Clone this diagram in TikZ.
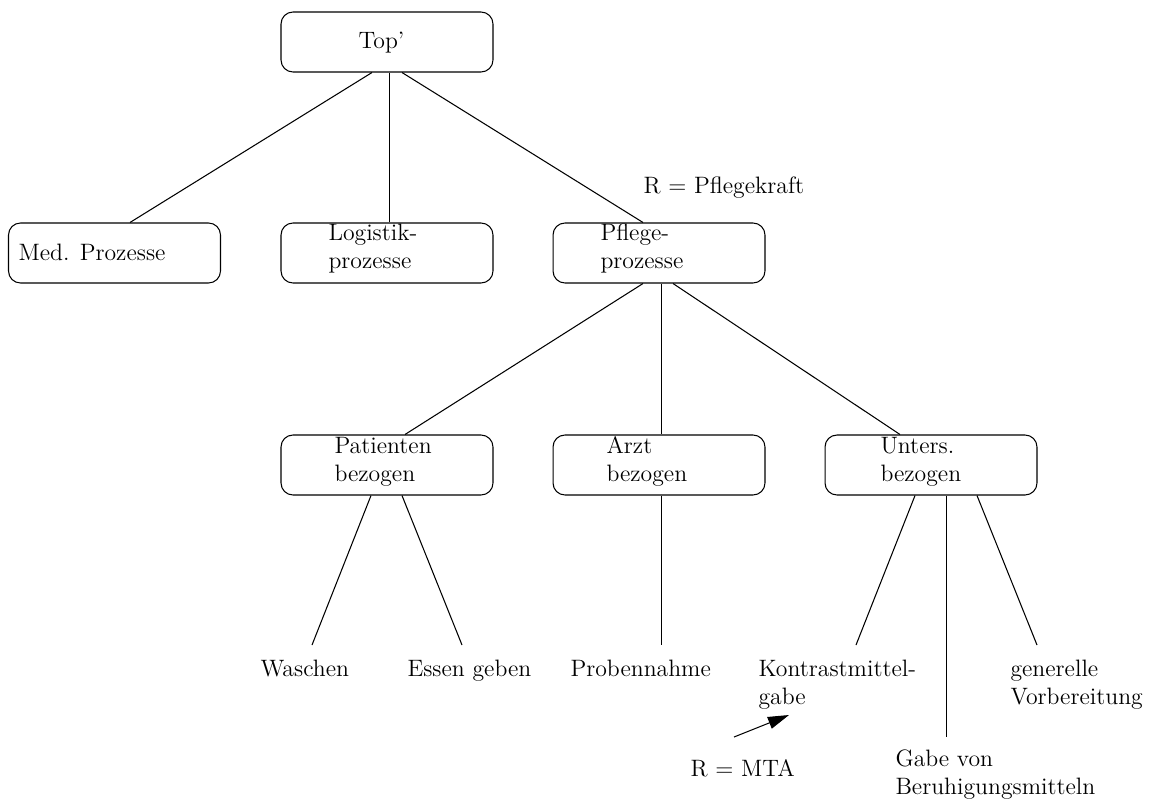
\documentclass[tikz,border=0pt]{standalone}
\usetikzlibrary{calc,arrows.meta}
\begin{document}
\begin{tikzpicture}[x=0.02cm,y=-0.02cm,
  font=\fontsize{13.5}{15.9}\selectfont,
  line width=0.6pt,
  box/.style={draw, rounded corners=6.8pt, minimum width=4.24cm, minimum height=1.2cm, inner sep=0pt},
  txt/.style={inner sep=0pt, anchor=base west, align=left},
  edge/.style={draw, line width=0.6pt}]
\useasboundingbox (0,0) rectangle (1165,801);
% boxes
\node[box] (top)  at (387,42)  {};
\node[box] (med)  at (114.5,253) {};
\node[box] (logi) at (387,253) {};
\node[box] (pfl)  at (659,253) {};
\node[box] (pat)  at (387,465) {};
\node[box] (arzt) at (659,465) {};
\node[box] (unt)  at (931,465) {};
% box texts (base = baseline of last line)
\node[txt] (toptxt)  at (358,48)  {Top'};
\node[txt] (medtxt)  at (18,260)  {Med. Prozesse};
\node[txt] (logitxt) at (328,268) {Logistik-\\prozesse};
\node[txt] (pfltxt)  at (600,268) {Pflege-\\prozesse};
\node[txt] (pattxt)  at (334,481) {Patienten\\bezogen};
\node[txt] (arzttxt) at (606,481) {Arzt\\bezogen};
\node[txt] (unttxt)  at (880,481) {Unters.\\bezogen};
% leaves
\node[txt] (wasch)  at (260,676) {Waschen};
\node[txt] (essen)  at (407,676) {Essen geben};
\node[txt] (probe)  at (570,676) {Probennahme};
\node[txt] (kontr)  at (758,704) {Kontrastmittel-\\gabe};
\node[txt] (gen)    at (1010,704) {generelle\\Vorbereitung};
\node[txt] (gabe)   at (895,794) {Gabe von\\Beruhigungsmitteln};
\node[txt] (rpfl)   at (643,193) {R = Pflegekraft};
\node[txt] (rmta)   at (690,776) {R = MTA};
% edge end points
\coordinate (wasch-n) at (312,645);
\coordinate (essen-n) at (462,645);
\coordinate (probe-n) at (661.5,645);
\coordinate (kontr-n) at (856,645);
\coordinate (gen-n)   at (1037,645);
\coordinate (gabe-n)  at (946.5,737);
\coordinate (mta-s)   at (734,737);
\coordinate (mta-e)   at (789,715);
% edges
\draw[edge] ($(top.south)+(-15,0)$) -- ($(med.north)+(15.5,0)$);
\draw[edge] ($(top.south)+(2.5,0)$) -- ($(logi.north)+(2.5,0)$);
\draw[edge] ($(top.south)+(15,0)$) -- ($(pfl.north)+(-16,0)$);
\draw[edge] ($(pfl.south)+(-16,0)$) -- ($(pat.north)+(18,0)$);
\draw[edge] ($(pfl.south)+(2.5,0)$) -- ($(arzt.north)+(2.5,0)$);
\draw[edge] ($(pfl.south)+(14,0)$) -- ($(unt.north)+(-31,0)$);
\draw[edge] ($(pat.south)+(-16,0)$) -- (wasch-n);
\draw[edge] ($(pat.south)+(15,0)$) -- (essen-n);
\draw[edge] ($(arzt.south)+(2.5,0)$) -- (probe-n);
\draw[edge] ($(unt.south)+(-16,0)$) -- (kontr-n);
\draw[edge] ($(unt.south)+(15.5,0)$) -- (gabe-n);
\draw[edge] ($(unt.south)+(46,0)$) -- (gen-n);
\draw[edge, -{Stealth[length=12pt,width=7pt,inset=0pt]}] (mta-s) -- (mta-e);
\end{tikzpicture}
\end{document}
